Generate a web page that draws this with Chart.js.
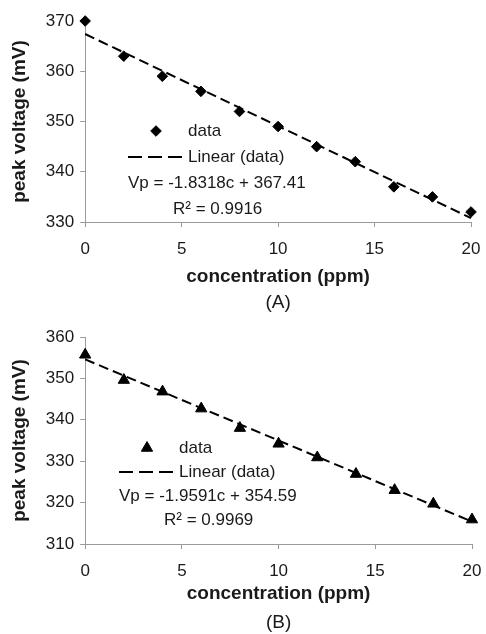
<!DOCTYPE html>
<html>
<head>
<meta charset="utf-8">
<script src="https://cdn.jsdelivr.net/npm/chart.js@4.4.1/dist/chart.umd.min.js"></script>
<style>
  body { margin: 0; background: #fff; }
  .panel { position: absolute; left: 0; width: 486px; }
  #panelA { top: 0; height: 320px; }
  #panelB { top: 320px; height: 314px; }
</style>
</head>
<body>
<div class="panel" id="panelA"><canvas id="chartA" width="486" height="320"></canvas></div>
<div class="panel" id="panelB"><canvas id="chartB" width="486" height="314"></canvas></div>
<script>
// concentration (ppm) shared by both panels
const concentration = [0, 2, 4, 6, 8, 10, 12, 14, 16, 18, 20];

// panel A: peak voltage (mV)
const voltageA = [370, 363, 359, 356, 352, 349, 345, 342, 337, 335, 332];
const slopeA = -1.8318;
const interceptA = 367.41;
const r2A = "0.9916";

// panel B: peak voltage (mV)
const voltageB = [355.7, 349.6, 346.8, 342.7, 338, 334.2, 330.9, 326.9, 323, 319.7, 315.9];
const slopeB = -1.9591;
const interceptB = 354.59;
const r2B = "0.9969";

const FONT = '"Liberation Sans", Arial, sans-serif';
const TEXT = "#1a1a1a";
const AXIS = "#9a9a9a";

// draws the in-plot legend (marker, dashed sample, equation, R²)
const legendBox = {
    id: "legendBox",
    afterDraw(chart, args, opts) {
        const ctx = chart.ctx;
        const x = opts.x, y = opts.y, gap = opts.gap;
        ctx.save();
        ctx.fillStyle = "#000";
        ctx.strokeStyle = "#000";
        Chart.helpers.drawPoint(ctx, { pointStyle: opts.pointStyle, radius: opts.radius, borderWidth: 1, rotation: 0 }, x + 28, y);

        ctx.setLineDash([14, 6]);
        ctx.lineWidth = 2;
        ctx.beginPath();
        ctx.moveTo(x, y + gap);
        ctx.lineTo(x + 54, y + gap);
        ctx.stroke();
        ctx.setLineDash([]);

        ctx.font = "17px " + FONT;
        ctx.fillStyle = TEXT;
        ctx.textBaseline = "middle";
        ctx.textAlign = "left";
        ctx.fillText("data", x + 60, y);
        ctx.fillText("Linear (data)", x + 60, y + gap);
        ctx.fillText(opts.equation, x, y + 2 * gap);
        ctx.fillText("R\u00B2 = " + opts.r2, x + 45, y + 3 * gap);
        ctx.restore();
    }
};

function makeChart(canvasId, values, slope, intercept, r2, yMin, yMax, pointStyle, radius, label, pad, legendPos, gaps) {
    const points = concentration.map((c, i) => ({ x: c, y: values[i] }));
    const xFirst = concentration[0];
    const xLast = concentration[concentration.length - 1];
    const trend = [
        { x: xFirst, y: intercept + slope * xFirst },
        { x: xLast, y: intercept + slope * xLast },
    ];
    const sign = intercept >= 0 ? " + " : " - ";
    const equation = "Vp = " + slope + "c" + sign + Math.abs(intercept);

    return new Chart(document.getElementById(canvasId), {
        type: "scatter",
        data: {
            datasets: [
                {
                    label: "data",
                    data: points,
                    pointStyle: pointStyle,
                    pointRadius: radius,
                    pointBackgroundColor: "#000",
                    pointBorderColor: "#000",
                    pointBorderWidth: 1,
                    clip: false,
                    order: 1,
                },
                {
                    label: "Linear (data)",
                    data: trend,
                    showLine: true,
                    borderColor: "#000",
                    borderWidth: 2,
                    borderDash: [10, 5],
                    pointRadius: 0,
                    clip: false,
                    order: 2,
                },
            ],
        },
        options: {
            responsive: false,
            animation: false,
            layout: { padding: pad },
            plugins: {
                legend: { display: false },
                tooltip: { enabled: false },
                title: {
                    display: true,
                    text: label,
                    position: "bottom",
                    fullSize: false,
                    color: TEXT,
                    font: { size: 19, weight: "normal", family: FONT },
                    padding: { top: gaps.label, bottom: 0 },
                },
                legendBox: Object.assign({ pointStyle: pointStyle, radius: radius, equation: equation, r2: r2 }, legendPos),
            },
            scales: {
                x: {
                    type: "linear",
                    min: 0,
                    max: 20,
                    ticks: { stepSize: 5, color: TEXT, font: { size: 17, family: FONT }, padding: 12 },
                    grid: { display: true, drawOnChartArea: false, drawTicks: true, tickLength: 5, color: AXIS },
                    border: { display: true, color: AXIS, width: 1 },
                    title: {
                        display: true,
                        text: "concentration (ppm)",
                        color: TEXT,
                        font: { size: 19, weight: "bold", family: FONT },
                        padding: { top: gaps.title, bottom: 0 },
                    },
                    // keep the side overflow to the end labels only
                    afterFit(scale) {
                        scale.paddingLeft = 6;
                        scale.paddingRight = 10;
                    },
                },
                y: {
                    min: yMin,
                    max: yMax,
                    ticks: { stepSize: 10, color: TEXT, font: { size: 17, family: FONT }, padding: 6 },
                    grid: { display: true, drawOnChartArea: false, drawTicks: true, tickLength: 5, color: AXIS },
                    border: { display: true, color: AXIS, width: 1 },
                    title: {
                        display: true,
                        text: "peak voltage (mV)",
                        color: TEXT,
                        font: { size: 19, weight: "bold", family: FONT },
                        padding: { top: 0, bottom: 9 },
                    },
                },
            },
        },
        plugins: [legendBox],
    });
}

makeChart("chartA", voltageA, slopeA, interceptA, r2A, 330, 370, "rectRot", 5.3, "(A)",
    { top: 21, right: 15, bottom: 6, left: 8 }, { x: 128, y: 131, gap: 26 }, { title: -6, label: 3 });
makeChart("chartB", voltageB, slopeB, interceptB, r2B, 310, 360, "triangle", 6.5, "(B)",
    { top: 17, right: 14, bottom: 0, left: 8 }, { x: 119, y: 128, gap: 24 }, { title: -11, label: 6 });
</script>
</body>
</html>
